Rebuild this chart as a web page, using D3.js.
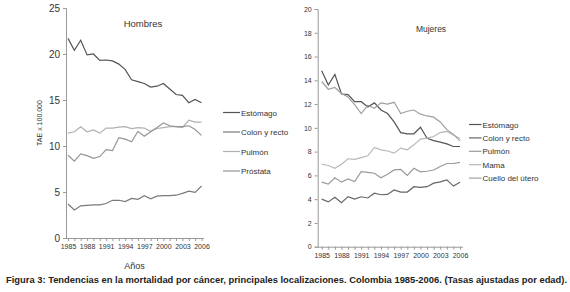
<!DOCTYPE html>
<html>
<head>
<meta charset="utf-8">
<script src="https://cdnjs.cloudflare.com/ajax/libs/d3/7.8.5/d3.min.js"></script>
<style>
  body { margin: 0; background: #fff; }
  svg text { font-family: "Liberation Sans", Arial, sans-serif; fill: #333; }
  .tick line, .domain { stroke: #999; }
  .xax text { font-family: "Liberation Sans Narrow", "Arial Narrow", "Liberation Sans", sans-serif; }
</style>
</head>
<body>
<div id="chart"></div>
<script>
var years = [1985, 1986, 1987, 1988, 1989, 1990, 1991, 1992, 1993, 1994, 1995,
             1996, 1997, 1998, 1999, 2000, 2001, 2002, 2003, 2004, 2005, 2006];
var yearLabels = [1985, 1988, 1991, 1994, 1997, 2000, 2003, 2006];

// Hombres
var hEstomago = [21.7, 20.4, 21.5, 19.9, 20.0, 19.3, 19.35, 19.25, 18.9, 18.3, 17.2, 17.0, 16.8, 16.4, 16.5, 16.8, 16.2, 15.6, 15.5, 14.7, 15.05, 14.7];
var hColon = [3.7, 3.05, 3.5, 3.55, 3.6, 3.6, 3.75, 4.1, 4.1, 3.95, 4.3, 4.2, 4.6, 4.25, 4.55, 4.6, 4.6, 4.65, 4.85, 5.1, 4.95, 5.65];
var hPulmon = [11.4, 11.55, 12.1, 11.55, 11.75, 11.4, 11.95, 11.95, 12.05, 12.1, 11.9, 12.0, 11.95, 11.6, 11.9, 12.0, 12.1, 12.1, 12.0, 12.8, 12.6, 12.6];
var hProstata = [9.0, 8.35, 9.15, 8.95, 8.65, 8.85, 9.6, 9.5, 10.9, 10.75, 10.45, 11.6, 11.05, 11.55, 12.0, 12.5, 12.2, 12.1, 12.1, 12.2, 11.8, 11.15];
var hTicks = [0, 5, 10, 15, 20, 25];

// Mujeres
var mEstomago = [14.8, 13.6, 14.5, 12.85, 12.8, 12.2, 12.2, 11.75, 12.1, 11.5, 11.2, 10.5, 9.6, 9.5, 9.5, 10.05, 9.13, 8.93, 8.8, 8.65, 8.43, 8.43];
var mColon = [4.0, 3.77, 4.16, 3.71, 4.21, 4.0, 4.2, 4.1, 4.5, 4.37, 4.4, 4.78, 4.6, 4.6, 5.05, 5.0, 5.05, 5.35, 5.45, 5.62, 5.1, 5.43];
var mPulmon = [5.43, 5.26, 5.8, 5.43, 5.7, 5.48, 6.32, 6.26, 6.18, 5.8, 6.1, 6.46, 6.5, 6.0, 6.6, 6.3, 6.35, 6.45, 6.75, 7.0, 7.0, 7.1];
var mMama = [6.94, 6.83, 6.6, 6.94, 7.4, 7.35, 7.5, 7.65, 8.35, 8.15, 8.05, 7.87, 8.3, 8.15, 8.57, 9.05, 9.13, 9.27, 9.6, 9.7, 9.4, 9.1];
var mCuello = [13.9, 13.25, 13.4, 12.9, 12.6, 11.95, 11.2, 11.9, 11.65, 12.1, 12.0, 12.15, 11.2, 11.4, 11.5, 11.15, 11.0, 10.9, 10.5, 9.85, 9.45, 8.9];
var mTicks = [0, 2, 4, 6, 8, 10, 12, 14, 16, 18, 20];

var width = 570, height = 292;

var svg = d3.select("#chart").append("svg")
    .attr("width", width)
    .attr("height", height);

function drawPanel(opt) {
    var x = d3.scaleLinear().domain([1985, 2006]).range([opt.x0, opt.x1]);
    var y = d3.scaleLinear().domain([0, opt.ymax]).range([opt.yb, opt.yt]);

    // x axis
    var xa = svg.append("g")
        .attr("class", "xax")
        .attr("transform", "translate(0," + opt.yb + ")")
        .call(d3.axisBottom(x)
            .tickValues(years)
            .tickSize(3)
            .tickPadding(3)
            .tickFormat(function(d) { return yearLabels.indexOf(d) >= 0 ? d : ""; }));
    xa.select(".domain").attr("d", "M" + opt.ax + ",0.5H" + opt.xend);
    xa.selectAll("text").style("font-size", "7px");

    // y axis
    var ya = svg.append("g")
        .attr("transform", "translate(" + opt.ax + ",0)")
        .call(d3.axisLeft(y).tickValues(opt.ticks).tickSize(3).tickPadding(3));
    ya.selectAll("text").style("font-size", opt.yfont + "px");

    var line = d3.line()
        .x(function(d, i) { return x(years[i]); })
        .y(function(d) { return y(d); });

    opt.series.forEach(function(s) {
        svg.append("path")
            .datum(s.values)
            .attr("d", line)
            .attr("fill", "none")
            .attr("stroke", s.color)
            .attr("stroke-width", 1.2);
    });

    // title
    svg.append("text")
        .attr("x", opt.tx)
        .attr("y", opt.ty)
        .attr("text-anchor", "middle")
        .style("font-size", opt.tfont + "px")
        .text(opt.title);

    // legend
    opt.legend.order.forEach(function(k, i) {
        var s = opt.series.find(function(e) { return e.name === k; });
        var ly = opt.legend.y + i * opt.legend.step;
        svg.append("line")
            .attr("x1", opt.legend.x)
            .attr("x2", opt.legend.x + opt.legend.len)
            .attr("y1", ly)
            .attr("y2", ly)
            .attr("stroke", s.color)
            .attr("stroke-width", 1.2);
        svg.append("text")
            .attr("x", opt.legend.x + opt.legend.len + 1)
            .attr("y", ly + 3)
            .style("font-size", "8px")
            .text(k);
    });
}

drawPanel({
    x0: 68, x1: 201.5, ax: 66, xend: 204, yb: 238, yt: 8, ymax: 25,
    ticks: hTicks, yfont: 10,
    title: "Hombres", tx: 143, ty: 27, tfont: 9.5,
    series: [
        { name: "Estómago", values: hEstomago, color: "#555" },
        { name: "Colon y recto", values: hColon, color: "#7a7a7a" },
        { name: "Pulmón", values: hPulmon, color: "#b0b0b0" },
        { name: "Próstata", values: hProstata, color: "#959595" }
    ],
    legend: { order: ["Estómago", "Colon y recto", "Pulmón", "Próstata"], x: 223, y: 112.5, step: 19.5, len: 17 }
});

drawPanel({
    x0: 321.7, x1: 460, ax: 317.7, xend: 463, yb: 246.7, yt: 9, ymax: 20,
    ticks: mTicks, yfont: 7,
    title: "Mujeres", tx: 431, ty: 32, tfont: 8.5,
    series: [
        { name: "Estómago", values: mEstomago, color: "#555" },
        { name: "Colon y recto", values: mColon, color: "#666" },
        { name: "Pulmón", values: mPulmon, color: "#9a9a9a" },
        { name: "Mama", values: mMama, color: "#b8b8b8" },
        { name: "Cuello del útero", values: mCuello, color: "#a0a0a0" }
    ],
    legend: { order: ["Estómago", "Colon y recto", "Pulmón", "Mama", "Cuello del útero"], x: 469, y: 124.5, step: 13.4, len: 12.5 }
});

// axis titles
svg.append("text")
    .attr("transform", "translate(42,123) rotate(-90)")
    .attr("text-anchor", "middle")
    .style("font-size", "7px")
    .text("TAE x 100.000");

svg.append("text")
    .attr("x", 134.5)
    .attr("y", 268.5)
    .attr("text-anchor", "middle")
    .style("font-size", "9px")
    .text("Años");

svg.append("text")
    .attr("x", 6)
    .attr("y", 283)
    .attr("textLength", 561)
    .attr("lengthAdjust", "spacingAndGlyphs")
    .style("font-size", "8.5px")
    .style("font-weight", "bold")
    .style("fill", "#222")
    .text("Figura 3: Tendencias en la mortalidad por cáncer, principales localizaciones. Colombia 1985-2006. (Tasas ajustadas por edad).");
</script>
</body>
</html>
